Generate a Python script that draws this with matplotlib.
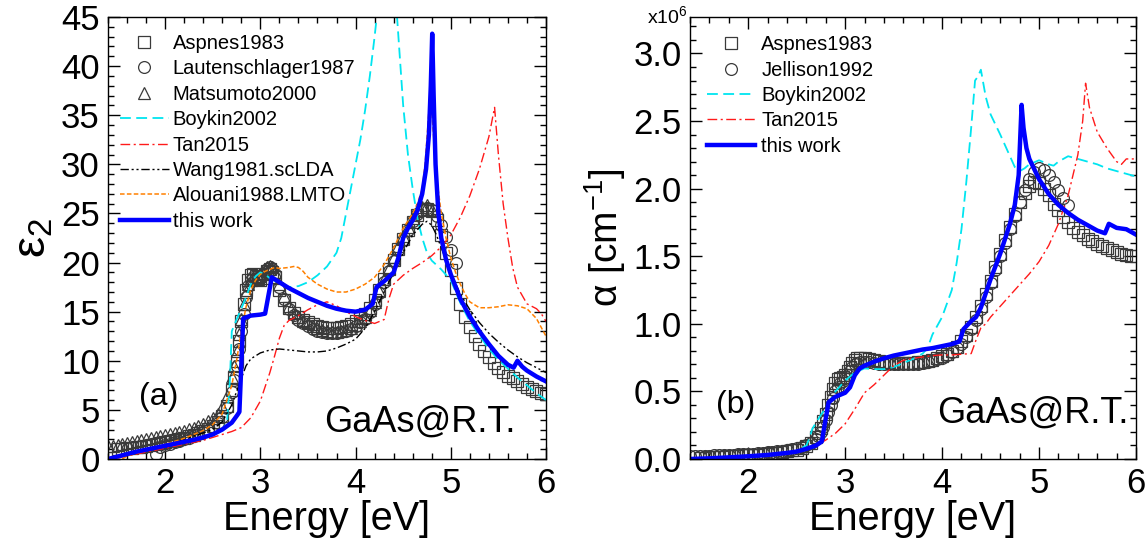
import numpy as np
import matplotlib
matplotlib.use('Agg')
import matplotlib.pyplot as plt
from matplotlib.ticker import MultipleLocator, FormatStrFormatter

plt.rcParams['font.family'] = ['Liberation Sans', 'DejaVu Sans']
plt.rcParams['mathtext.fontset'] = 'custom'
plt.rcParams['mathtext.rm'] = 'Liberation Sans'
plt.rcParams['mathtext.it'] = 'Liberation Sans'

# ---------------- panel (a): epsilon_2 ----------------
aspnes_e = [1.5, 1.55, 1.6, 1.65, 1.7, 1.75, 1.8, 1.85, 1.9, 1.95, 2.0, 2.05, 2.1, 2.15, 2.2, 2.25,
            2.3, 2.35, 2.4, 2.45, 2.5, 2.55, 2.6, 2.65, 2.7, 2.725, 2.75, 2.775, 2.8, 2.825, 2.85,
            2.875, 2.9, 2.925, 2.95, 2.975, 3.0, 3.025, 3.05, 3.075, 3.1, 3.125, 3.15, 3.2, 3.25,
            3.3, 3.35, 3.4, 3.45, 3.5, 3.55, 3.6, 3.65, 3.7, 3.75, 3.8, 3.85, 3.9, 3.95, 4.0,
            4.05, 4.1, 4.15, 4.2, 4.25, 4.3, 4.35, 4.4, 4.45, 4.5, 4.55, 4.6, 4.65, 4.7, 4.75,
            4.8, 4.85, 4.9, 4.95, 5.0, 5.05, 5.1, 5.15, 5.2, 5.25, 5.3, 5.35, 5.4, 5.45, 5.5,
            5.55, 5.6, 5.65, 5.7, 5.75, 5.8, 5.85, 5.9, 5.95, 6.0]
aspnes_eps2 = [1.0, 1.05, 1.1, 1.15, 1.2, 1.27, 1.35, 1.42, 1.5, 1.6, 1.7, 1.8, 1.9, 2.02, 2.15, 2.3,
               2.45, 2.65, 2.85, 3.1, 3.4, 3.8, 4.4, 5.4, 7.0, 8.3, 10.0, 12.0, 14.0, 15.8, 17.2,
               18.2, 18.7, 18.8, 18.6, 18.3, 18.2, 18.4, 18.8, 19.1, 19.3, 19.0, 18.5, 17.2, 16.2,
               15.4, 14.9, 14.5, 14.2, 13.9, 13.7, 13.5, 13.4, 13.3, 13.3, 13.3, 13.4, 13.5, 13.7, 14.0,
               14.4, 14.8, 15.4, 16.2, 17.2, 18.3, 19.3, 20.3, 21.4, 22.4, 23.3, 24.1, 24.8, 25.3, 25.5,
               25.2, 24.3, 22.8, 21.0, 19.2, 17.4, 15.8, 14.5, 13.4, 12.5, 11.7, 11.0, 10.4, 9.8, 9.3,
               8.9, 8.5, 8.2, 7.9, 7.6, 7.3, 7.1, 6.9, 6.75, 6.6]

laut_e = [1.9, 1.95, 2.0, 2.05, 2.1, 2.15, 2.2, 2.25, 2.3, 2.35, 2.4, 2.45, 2.5, 2.55, 2.6, 2.65,
          2.7, 2.725, 2.75, 2.775, 2.8, 2.825, 2.85, 2.875, 2.9, 2.925, 2.95, 2.975, 3.0, 3.025,
          3.05, 3.075, 3.1, 3.125, 3.15, 3.2, 3.25, 3.3, 3.35, 3.4, 3.45, 3.5, 3.55, 3.6, 3.65,
          3.7, 3.75, 3.8, 3.85, 3.9, 3.95, 4.0, 4.05, 4.1, 4.15, 4.2, 4.25, 4.3, 4.35, 4.4,
          4.45, 4.5, 4.55, 4.6, 4.65, 4.7, 4.75, 4.8, 4.85, 4.9, 4.95, 5.0, 5.05]
laut_eps2 = [0.5, 1.2, 1.4, 1.55, 1.7, 1.85, 2.0, 2.15, 2.3, 2.5, 2.7, 3.0, 3.3, 3.7, 4.3, 5.2,
             6.8, 8.0, 9.5, 11.2, 13.0, 14.8, 16.5, 17.6, 18.2, 18.5, 18.5, 18.4, 18.5, 18.7,
             19.0, 19.3, 19.5, 19.3, 18.8, 17.5, 16.3, 15.3, 14.7, 14.2, 13.8, 13.5, 13.2, 13.0, 12.9,
             12.8, 12.8, 12.8, 12.9, 13.0, 13.2, 13.5, 13.9, 14.3, 15.0, 15.8, 16.9, 18.0, 19.1, 20.2,
             21.3, 22.3, 23.3, 24.2, 24.9, 25.4, 25.6, 25.3, 24.7, 23.8, 22.6, 21.3, 20.0]

matsu_e = [1.4, 1.45, 1.5, 1.55, 1.6, 1.65, 1.7, 1.75, 1.8, 1.85, 1.9, 1.95, 2.0, 2.05, 2.1, 2.15,
           2.2, 2.25, 2.3, 2.35, 2.4, 2.45, 2.5, 2.55, 2.6, 2.65, 2.7, 2.725, 2.75, 2.775, 2.8,
           2.825, 2.85, 2.875, 2.9, 2.925, 2.95, 2.975, 3.0, 3.025, 3.05, 3.075, 3.1, 3.125, 3.15,
           3.2, 3.25, 3.3, 3.35, 3.4, 3.45, 3.5, 3.55, 3.6, 3.65, 3.7, 3.75, 3.8, 3.85, 3.9,
           3.95, 4.0, 4.05, 4.1, 4.15, 4.2, 4.25, 4.3, 4.35, 4.4, 4.45, 4.5, 4.55, 4.6, 4.65,
           4.7, 4.75, 4.8]
matsu_eps2 = [1.3, 1.35, 1.4, 1.5, 1.6, 1.7, 1.8, 1.9, 2.0, 2.1, 2.2, 2.3, 2.4, 2.5, 2.65, 2.75,
              2.9, 3.05, 3.2, 3.4, 3.6, 3.9, 4.2, 4.6, 5.3, 6.4, 8.3, 9.5, 11.0, 12.7, 14.3,
              15.8, 17.0, 17.8, 18.2, 18.3, 18.4, 18.5, 18.6, 18.9, 19.2, 19.5, 19.7, 19.5, 19.0,
              17.8, 16.6, 15.6, 15.0, 14.5, 14.1, 13.8, 13.5, 13.3, 13.1, 13.0, 12.9, 12.9, 13.0, 13.1,
              13.3, 13.6, 14.0, 14.5, 15.2, 16.0, 17.1, 18.3, 19.4, 20.6, 21.7, 22.7, 23.6, 24.5, 25.2,
              25.7, 25.9, 25.4]

boykin_e = [1.4, 1.5, 1.75, 2.0, 2.25, 2.5, 2.6, 2.65, 2.68, 2.7, 2.75, 2.8, 2.85, 2.9, 2.95, 3.0,
            3.05, 3.1, 3.2, 3.3, 3.4, 3.5, 3.6, 3.7, 3.8, 3.85, 3.9, 3.95, 4.0, 4.05, 4.1, 4.15,
            4.2, 4.25, 4.3, 4.35, 4.4, 4.45, 4.5, 4.55, 4.6, 4.65, 4.7, 4.75, 4.8, 4.9, 5.0,
            5.1, 5.2, 5.3, 5.4, 5.5, 5.6, 5.7, 5.8, 5.9, 6.0]
boykin_eps2 = [0.0, 0.3, 0.8, 1.3, 1.8, 2.4, 2.9, 3.8, 8.0, 13.0, 14.2, 15.3, 16.5, 17.8, 18.6, 19.0,
               18.8, 18.4, 17.9, 17.5, 17.6, 18.0, 18.7, 19.6, 21.0, 22.5, 25.0, 27.5, 30.0, 32.5, 35.5, 39.0,
               43.0, 47.5, 52.0, 54.0, 50.0, 43.0, 36.0, 31.0, 27.5, 24.5, 22.5, 21.0, 20.2, 19.3, 18.2,
               15.9, 14.0, 12.6, 11.2, 10.1, 9.2, 8.3, 7.5, 6.7, 6.0]

tan_e = [1.5, 1.6, 1.8, 2.0, 2.2, 2.4, 2.5, 2.6, 2.7, 2.8, 2.9, 3.0, 3.1, 3.15, 3.2, 3.25,
         3.3, 3.4, 3.5, 3.6, 3.7, 3.8, 3.9, 4.0, 4.1, 4.2, 4.3, 4.35, 4.4, 4.5, 4.6, 4.7,
         4.8, 4.9, 5.0, 5.1, 5.2, 5.3, 5.4, 5.46, 5.5, 5.55, 5.6, 5.65, 5.7, 5.8, 5.9, 5.95, 6.0]
tan_eps2 = [0.1, 0.3, 0.7, 1.1, 1.5, 1.9, 2.2, 2.5, 2.8, 3.2, 4.2, 5.9, 8.8, 10.5, 12.3, 13.6,
            14.1, 14.6, 15.2, 15.7, 16.0, 15.6, 15.0, 14.5, 14.1, 13.8, 14.2, 16.3, 17.8, 18.7, 19.4, 20.0,
            20.7, 21.6, 22.8, 24.6, 26.8, 29.5, 32.8, 35.8, 31.0, 26.0, 22.5, 19.5, 17.5, 15.8, 15.3, 14.8, 14.0]

wang_e = [1.5, 2.0, 2.5, 2.6, 2.7, 2.8, 2.85, 2.9, 3.0, 3.1, 3.2, 3.3, 3.4, 3.5, 3.6, 3.7,
          3.8, 3.9, 4.0, 4.1, 4.2, 4.3, 4.4, 4.5, 4.6, 4.7, 4.75, 4.8, 4.85, 4.9, 5.0, 5.1,
          5.2, 5.3, 5.4, 5.5, 5.6, 5.7, 5.8, 5.9, 6.0]
wang_eps2 = [0.3, 1.3, 3.0, 3.8, 5.5, 8.2, 9.5, 10.2, 10.8, 11.1, 11.2, 11.1, 11.0, 10.9, 10.9, 11.0,
             11.3, 11.7, 12.2, 13.3, 15.0, 17.0, 19.0, 21.0, 22.8, 23.9, 24.2, 23.8, 22.8, 21.5, 19.0, 16.8,
             15.2, 13.9, 12.8, 11.9, 11.1, 10.4, 9.8, 9.3, 8.8]

alouani_e = [1.55, 1.6, 1.8, 2.0, 2.2, 2.4, 2.5, 2.6, 2.7, 2.75, 2.8, 2.85, 2.9, 2.95, 3.0, 3.05,
             3.1, 3.15, 3.2, 3.3, 3.35, 3.4, 3.45, 3.5, 3.6, 3.7, 3.8, 3.9, 4.0, 4.1, 4.2, 4.3,
             4.4, 4.5, 4.6, 4.65, 4.7, 4.73, 4.76, 4.78, 4.8, 4.83, 4.86, 4.9, 4.95, 5.0, 5.05,
             5.1, 5.15, 5.2, 5.3, 5.4, 5.5, 5.6, 5.7, 5.8, 5.9, 6.0]
alouani_eps2 = [0.0, 0.3, 0.9, 1.5, 2.1, 2.9, 3.5, 4.6, 7.5, 10.0, 13.0, 15.5, 17.2, 18.2, 18.8, 19.1,
                19.3, 19.5, 19.4, 19.5, 19.6, 19.5, 19.1, 18.5, 17.8, 17.3, 17.0, 17.0, 17.3, 17.8, 18.5, 19.8,
                21.5, 23.5, 25.0, 26.0, 27.5, 30.0, 34.0, 37.0, 35.5, 31.5, 28.0, 25.0, 22.5, 20.5, 19.0,
                17.8, 16.8, 16.0, 15.4, 15.4, 15.5, 15.7, 15.6, 15.3, 14.3, 12.5]

work_e = [1.4, 1.5, 1.6, 1.7, 1.8, 1.9, 2.0, 2.1, 2.2, 2.3, 2.4, 2.5, 2.6, 2.7, 2.76, 2.78,
          2.82, 2.9, 3.0, 3.05, 3.12, 3.2, 3.3, 3.4, 3.5, 3.6, 3.7, 3.8, 3.9, 4.0, 4.1, 4.18,
          4.22, 4.3, 4.4, 4.45, 4.5, 4.55, 4.6, 4.65, 4.7, 4.74, 4.77, 4.79, 4.805, 4.82, 4.84,
          4.87, 4.9, 4.95, 5.0, 5.1, 5.2, 5.3, 5.4, 5.5, 5.6, 5.66, 5.7, 5.75, 5.8, 5.9, 6.0]
work_eps2 = [0.0, 0.25, 0.5, 0.75, 0.95, 1.15, 1.35, 1.55, 1.75, 1.95, 2.2, 2.5, 3.0, 3.7, 4.5, 4.8,
             14.3, 14.6, 14.7, 14.8, 18.5, 18.0, 17.4, 16.9, 16.4, 16.0, 15.6, 15.3, 15.1, 15.0, 15.2, 15.8,
             17.5, 18.1, 19.0, 20.5, 22.5, 23.5, 24.3, 25.3, 27.0, 29.5, 33.0, 38.0, 43.3, 37.0, 30.0,
             25.0, 22.5, 20.3, 18.8, 16.3, 14.5, 13.0, 11.7, 10.5, 9.6, 9.3, 10.0, 9.4, 9.0, 8.4, 7.9]

# ---------------- panel (b): alpha (x1e6 cm^-1) ----------------
aspnes_a_e = [1.5, 1.55, 1.6, 1.65, 1.7, 1.75, 1.8, 1.85, 1.9, 1.95, 2.0, 2.05, 2.1, 2.15, 2.2, 2.25,
              2.3, 2.35, 2.4, 2.45, 2.5, 2.55, 2.6, 2.65, 2.7, 2.725, 2.75, 2.775, 2.8, 2.825, 2.85,
              2.875, 2.9, 2.925, 2.95, 2.975, 3.0, 3.025, 3.05, 3.075, 3.1, 3.125, 3.15, 3.2, 3.25,
              3.3, 3.35, 3.4, 3.45, 3.5, 3.55, 3.6, 3.65, 3.7, 3.75, 3.8, 3.85, 3.9, 3.95, 4.0,
              4.05, 4.1, 4.15, 4.2, 4.25, 4.3, 4.35, 4.4, 4.45, 4.5, 4.55, 4.6, 4.65, 4.7, 4.75,
              4.8, 4.85, 4.9, 4.95, 5.0, 5.05, 5.1, 5.15, 5.2, 5.25, 5.3, 5.35, 5.4, 5.45, 5.5,
              5.55, 5.6, 5.65, 5.7, 5.75, 5.8, 5.85, 5.9, 5.95, 6.0]
aspnes_alpha = [0.01, 0.011, 0.013, 0.014, 0.016, 0.018, 0.02, 0.022, 0.024, 0.026, 0.028, 0.03, 0.033, 0.036, 0.04, 0.043,
                0.047, 0.052, 0.057, 0.063, 0.07, 0.08, 0.095, 0.12, 0.16, 0.19, 0.23, 0.28, 0.33, 0.4, 0.46,
                0.52, 0.56, 0.59, 0.6, 0.61, 0.62, 0.65, 0.68, 0.71, 0.73, 0.745, 0.75, 0.745, 0.74,
                0.73, 0.725, 0.72, 0.715, 0.71, 0.71, 0.71, 0.71, 0.71, 0.715, 0.72, 0.728, 0.735, 0.747, 0.76,
                0.78, 0.8, 0.83, 0.87, 0.92, 0.98, 1.05, 1.13, 1.22, 1.32, 1.42, 1.52, 1.62, 1.72, 1.81,
                1.9, 1.97, 2.02, 2.05, 2.04, 2.0, 1.95, 1.89, 1.84, 1.79, 1.75, 1.71, 1.68, 1.655, 1.63,
                1.61, 1.59, 1.575, 1.56, 1.545, 1.53, 1.52, 1.51, 1.505, 1.5]

jell_e = [1.4, 1.45, 1.5, 1.55, 1.6, 1.65, 1.7, 1.75, 1.8, 1.85, 1.9, 1.95, 2.0, 2.05, 2.1, 2.15,
          2.2, 2.25, 2.3, 2.35, 2.4, 2.45, 2.5, 2.55, 2.6, 2.65, 2.7, 2.725, 2.75, 2.775, 2.8,
          2.825, 2.85, 2.875, 2.9, 2.925, 2.95, 2.975, 3.0, 3.025, 3.05, 3.075, 3.1, 3.125, 3.15,
          3.2, 3.25, 3.3, 3.35, 3.4, 3.45, 3.5, 3.55, 3.6, 3.65, 3.7, 3.75, 3.8, 3.85, 3.9,
          3.95, 4.0, 4.05, 4.1, 4.15, 4.2, 4.25, 4.3, 4.35, 4.4, 4.45, 4.5, 4.55, 4.6, 4.65,
          4.7, 4.75, 4.8, 4.85, 4.9, 4.95, 5.0, 5.05, 5.1, 5.15, 5.2, 5.25, 5.3]
jell_alpha = [0.02, 0.021, 0.022, 0.023, 0.025, 0.026, 0.028, 0.029, 0.03, 0.032, 0.034, 0.036, 0.038, 0.04, 0.043, 0.046,
              0.05, 0.053, 0.057, 0.061, 0.066, 0.072, 0.078, 0.088, 0.1, 0.12, 0.15, 0.17, 0.2, 0.24, 0.29,
              0.35, 0.4, 0.45, 0.5, 0.53, 0.56, 0.58, 0.6, 0.62, 0.65, 0.68, 0.7, 0.71, 0.72,
              0.72, 0.715, 0.71, 0.705, 0.7, 0.7, 0.7, 0.7, 0.7, 0.7, 0.7, 0.705, 0.71, 0.717, 0.725,
              0.737, 0.75, 0.77, 0.79, 0.82, 0.85, 0.9, 0.96, 1.03, 1.11, 1.2, 1.3, 1.4, 1.5, 1.6,
              1.7, 1.8, 1.9, 1.99, 2.07, 2.12, 2.15, 2.14, 2.1, 2.05, 1.99, 1.93, 1.88]

boykin_a_e = [1.4, 1.6, 1.8, 2.0, 2.2, 2.4, 2.5, 2.6, 2.63, 2.66, 2.7, 2.8, 2.9, 3.0, 3.1, 3.2,
              3.3, 3.4, 3.5, 3.6, 3.7, 3.8, 3.85, 3.9, 4.0, 4.1, 4.15, 4.2, 4.25, 4.3, 4.34,
              4.37, 4.4, 4.45, 4.5, 4.6, 4.7, 4.75, 4.8, 4.85, 4.9, 5.0, 5.1, 5.15, 5.2, 5.3,
              5.4, 5.5, 5.6, 5.7, 5.8, 5.9, 6.0]
boykin_alpha = [0.0, 0.005, 0.01, 0.02, 0.03, 0.045, 0.06, 0.1, 0.15, 0.22, 0.27, 0.38, 0.5, 0.58, 0.64, 0.67,
                0.665, 0.665, 0.68, 0.71, 0.74, 0.78, 0.82, 0.92, 1.05, 1.25, 1.45, 1.7, 2.05, 2.45, 2.8,
                2.83, 2.88, 2.68, 2.55, 2.4, 2.24, 2.16, 2.13, 2.15, 2.18, 2.21, 2.18, 2.17, 2.2, 2.24,
                2.22, 2.2, 2.18, 2.15, 2.13, 2.11, 2.09]

tan_a_e = [1.4, 1.6, 1.8, 2.0, 2.2, 2.4, 2.5, 2.6, 2.7, 2.8, 2.9, 3.0, 3.1, 3.2, 3.3, 3.4,
           3.5, 3.6, 3.7, 3.8, 3.9, 4.0, 4.1, 4.2, 4.3, 4.35, 4.4, 4.45, 4.5, 4.6, 4.7, 4.8,
           4.9, 5.0, 5.1, 5.2, 5.3, 5.4, 5.45, 5.48, 5.52, 5.6, 5.7, 5.8, 5.85, 5.9, 6.0]
tan_alpha = [0.0, 0.005, 0.01, 0.02, 0.03, 0.045, 0.055, 0.075, 0.1, 0.14, 0.19, 0.26, 0.37, 0.49, 0.55, 0.62,
             0.69, 0.73, 0.745, 0.755, 0.765, 0.77, 0.77, 0.775, 0.78, 0.88, 0.97, 1.0, 1.05, 1.13, 1.21, 1.29,
             1.37, 1.46, 1.58, 1.74, 1.95, 2.25, 2.5, 2.78, 2.6, 2.42, 2.3, 2.2, 2.18, 2.22, 2.22]

work_a_e = [1.4, 1.6, 1.8, 2.0, 2.2, 2.4, 2.5, 2.6, 2.7, 2.76, 2.8, 2.83, 2.9, 3.0, 3.05, 3.1,
            3.15, 3.2, 3.3, 3.4, 3.5, 3.6, 3.7, 3.8, 3.9, 4.0, 4.1, 4.18, 4.22, 4.3, 4.35, 4.4,
            4.5, 4.6, 4.7, 4.75, 4.79, 4.82, 4.84, 4.87, 4.9, 5.0, 5.1, 5.2, 5.3, 5.4, 5.5,
            5.6, 5.68, 5.72, 5.8, 5.9, 6.0]
work_alpha = [0.0, 0.005, 0.012, 0.02, 0.03, 0.045, 0.055, 0.075, 0.1, 0.13, 0.3, 0.42, 0.46, 0.49, 0.53, 0.62,
              0.67, 0.69, 0.72, 0.745, 0.765, 0.78, 0.795, 0.81, 0.82, 0.835, 0.85, 0.87, 0.96, 1.02, 1.05, 1.12,
              1.33, 1.52, 1.74, 1.88, 2.1, 2.62, 2.45, 2.3, 2.22, 2.07, 1.96, 1.88, 1.82, 1.77, 1.73,
              1.69, 1.67, 1.74, 1.71, 1.70, 1.66]

EXP_STYLE = dict(linestyle='none', markerfacecolor='none', markeredgecolor='#3a3a3a',
                 markeredgewidth=0.9, markersize=8.5)
BOYKIN = dict(color='#00e5f0', lw=1.3, dashes=(6, 3))
TAN = dict(color='#ff1a1a', lw=1.0, dashes=(7, 2.5, 1.5, 2.5))
WANG = dict(color='black', lw=1.0, dashes=(6, 2, 1.5, 2, 1.5, 2))
ALOUANI = dict(color='#ff8000', lw=1.1, dashes=(3, 1.5))
WORK = dict(color='#0000ff', lw=3.2)


def style_axes(ax, ymajor, yminor):
    ax.set_xlim(1.4, 6.0)
    ax.xaxis.set_major_locator(MultipleLocator(1))
    ax.xaxis.set_minor_locator(MultipleLocator(0.2))
    ax.yaxis.set_major_locator(MultipleLocator(ymajor))
    ax.yaxis.set_minor_locator(MultipleLocator(yminor))
    ax.tick_params(which='both', direction='in', top=True, right=True, width=1.0)
    ax.tick_params(which='major', length=8.5, labelsize=25, pad=6)
    ax.tick_params(which='minor', length=4.5)
    for s in ax.spines.values():
        s.set_linewidth(1.0)
    ax.set_xlabel('Energy [eV]', fontsize=28.5, labelpad=0)


fig = plt.figure(figsize=(11.46, 5.41), dpi=100)

# panel (a)
ax1 = fig.add_axes([108 / 1146, 1 - 459 / 541, 438 / 1146, 442 / 541])
ax1.plot(aspnes_e, aspnes_eps2, marker='s', label='Aspnes1983', **EXP_STYLE)
ax1.plot(laut_e, laut_eps2, marker='o', label='Lautenschlager1987', **EXP_STYLE)
ax1.plot(matsu_e, matsu_eps2, marker='^', label='Matsumoto2000', **EXP_STYLE)
ax1.plot(boykin_e, boykin_eps2, label='Boykin2002', **BOYKIN)
ax1.plot(tan_e, tan_eps2, label='Tan2015', **TAN)
ax1.plot(wang_e, wang_eps2, label='Wang1981.scLDA', **WANG)
ax1.plot(alouani_e, alouani_eps2, label='Alouani1988.LMTO', **ALOUANI)
ax1.plot(work_e, work_eps2, label='this work', **WORK)
style_axes(ax1, 5, 1)
ax1.set_ylim(0, 45)
ax1.set_ylabel(r'$\mathregular{ε_2}$', fontsize=34, labelpad=4)
ax1.legend(loc='upper left', bbox_to_anchor=(0.028, 0.962), frameon=False, fontsize=14.5,
           handlelength=2.4, handletextpad=0.2, labelspacing=0.32, borderpad=0, borderaxespad=0)
ax1.text(1.93, 6.3, '(a)', fontsize=23, ha='center', va='center')
ax1.text(5.68, 2.75, 'GaAs@R.T.', fontsize=26, ha='right', va='baseline')

# panel (b)
ax2 = fig.add_axes([690 / 1146, 1 - 459 / 541, 446 / 1146, 442 / 541])
ax2.plot(aspnes_a_e, aspnes_alpha, marker='s', label='Aspnes1983', **EXP_STYLE)
ax2.plot(jell_e, jell_alpha, marker='o', label='Jellison1992', **EXP_STYLE)
ax2.plot(boykin_a_e, boykin_alpha, label='Boykin2002', **BOYKIN)
ax2.plot(tan_a_e, tan_alpha, label='Tan2015', **TAN)
ax2.plot(work_a_e, work_alpha, label='this work', **WORK)
style_axes(ax2, 0.5, 0.1)
ax2.set_ylim(0, 3.27)
ax2.yaxis.set_major_formatter(FormatStrFormatter('%.1f'))
ax2.set_ylabel(r'α [cm$^{-1}$]', fontsize=28, labelpad=4)
ax2.legend(loc='upper left', bbox_to_anchor=(0.038, 0.959), frameon=False, fontsize=14.5,
           handlelength=2.4, handletextpad=0.3, labelspacing=0.32, borderpad=0, borderaxespad=0)
ax2.text(1.87, 0.40, '(b)', fontsize=23, ha='center', va='center')
ax2.text(5.92, 0.27, 'GaAs@R.T.', fontsize=26, ha='right', va='baseline')
fig.text(688 / 1146, 1 - 23 / 541, r'x10$^{6}$', fontsize=14, ha='right', va='baseline')

fig.savefig('out.png', dpi=100)
